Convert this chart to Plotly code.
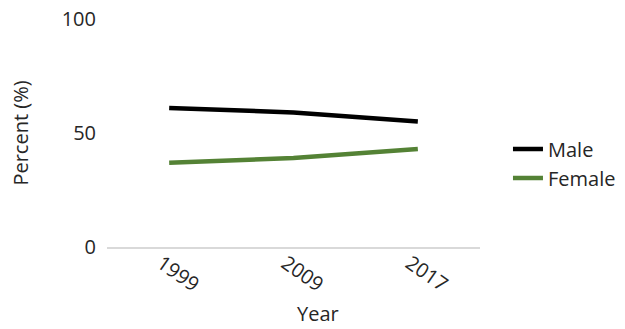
import plotly.graph_objects as go

years = ["1999", "2009", "2017"]
male = [61, 59, 55]
female = [37, 39, 43]

font_family = "Open Sans"
text_color = "#262626"
tick_font = dict(family=font_family, size=20, color=text_color)

fig = go.Figure()
fig.add_trace(go.Scatter(x=years, y=male, name="Male", mode="lines",
                         line=dict(color="#000000", width=4.5)))
fig.add_trace(go.Scatter(x=years, y=female, name="Female", mode="lines",
                         line=dict(color="#548235", width=4.5)))

fig.update_layout(
    width=625, height=329,
    margin=dict(l=107, r=145, t=19, b=82, autoexpand=False),
    paper_bgcolor="white", plot_bgcolor="white",
    font=dict(family=font_family, size=20, color=text_color),
    showlegend=True,
    legend=dict(x=1.075, xanchor="left", y=0.366, yanchor="middle",
                font=dict(size=20), bgcolor="rgba(0,0,0,0)"),
    xaxis=dict(type="category", range=[-0.5, 2.5], tickangle=35,
               showgrid=False, showline=True, linecolor="#d9d9d9",
               linewidth=2, ticks="", tickfont=tick_font,
               ticklabelstandoff=-5, ticklabelshift=-8, zeroline=False),
    yaxis=dict(range=[0, 100], tickvals=[0, 50, 100], showgrid=False,
               zeroline=False, showline=False, ticks="", tickfont=tick_font,
               ticklabelstandoff=10,
               title=dict(text="Percent (%)", standoff=27,
                          font=dict(size=20))),
    annotations=[dict(text="Year", x=0.565, y=-(329 - 247) / 228,
                      xref="paper", yref="paper", yanchor="bottom",
                      showarrow=False, font=dict(size=20))],
)

fig.write_html("out.html")
